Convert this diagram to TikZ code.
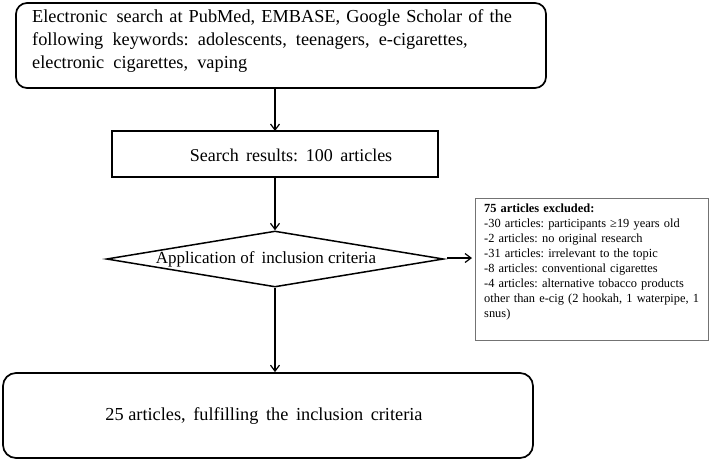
\documentclass[tikz,border=0pt]{standalone}
\usepackage{fontspec}
\setmainfont{Liberation Serif}
\usetikzlibrary{shapes.geometric,arrows.meta}
\begin{document}
\frenchspacing
\begin{tikzpicture}[x=1pt,y=-1pt,
  roundbox/.style={draw,line width=1.7pt,rounded corners=11pt,inner sep=0pt},
  sqbox/.style={draw,line width=1.5pt,inner sep=0pt},
  decision/.style={draw,diamond,line width=1.5pt,inner sep=0pt},
  notebox/.style={draw=black!55,line width=0.8pt,inner sep=0pt},
  conn/.style={line width=1.3pt,-{Straight Barb[length=6pt,width=9pt,line width=1.2pt]}}]
\useasboundingbox (0,0) rectangle (709,461);
\node[roundbox,minimum width=530pt,minimum height=85pt] (top) at (281,45.5) {};
\node[align=left,text width=505pt,font=\fontsize{18.3}{23}\selectfont,anchor=north west,inner sep=0pt] (toptext) at (32,9)
 {Electronic\ \,search at PubMed, EMBASE, Google Scholar of the\\following\ \,keywords:\ \,adolescents,\ \,teenagers,\ \,e-cigarettes,\\electronic\ \,cigarettes,\ \,vaping};
\node[sqbox,minimum width=326pt,minimum height=46pt] (search) at (275,154) {};
\node[font=\fontsize{18}{20}\selectfont,inner sep=0pt] (searchtext) at (291,155) {Search\ \,results:\ \,100\ \,articles};
\node[decision,minimum width=337pt,minimum height=56pt,aspect=6] (crit) at (275,259) {};
\node[font=\fontsize{17}{20}\selectfont,inner sep=0pt] (crittext) at (266,259) {Application\ of\ \,inclusion criteria};
\node[notebox,minimum width=233pt,minimum height=142pt] (excl) at (591.5,269) {};
\node[align=left,text width=228pt,font=\fontsize{12.4}{15}\selectfont,anchor=north west,inner sep=0pt] (excltext) at (484,204)
 {\textbf{75 articles excluded:}\\-30 articles: participants ≥19 years old\\-2 articles: no original research\\-31 articles: irrelevant to the topic\\-8 articles: conventional cigarettes\\-4 articles: alternative tobacco products\\other than e-cig (2 hookah, 1 waterpipe, 1\\snus)};
\node[roundbox,rounded corners=13pt,minimum width=530pt,minimum height=85pt] (final) at (268,415.5) {};
\node[font=\fontsize{18.3}{20}\selectfont,inner sep=0pt] (finaltext) at (264,416) {25 articles,\ \,fulfilling\ \,the\ \,inclusion\ \,criteria};
\coordinate (a1) at (275,88);
\coordinate (a2) at (275,131);
\draw[conn] (a1) -- (a2);
\draw[conn] (search.south) -- (crit.north);
\draw[conn] (crit.south) -- (crit.south |- final.north);
\coordinate (b1) at (447,258);
\coordinate (b2) at (472,258);
\draw[conn,line width=1.1pt] (b1) -- (b2);
\end{tikzpicture}
\end{document}
